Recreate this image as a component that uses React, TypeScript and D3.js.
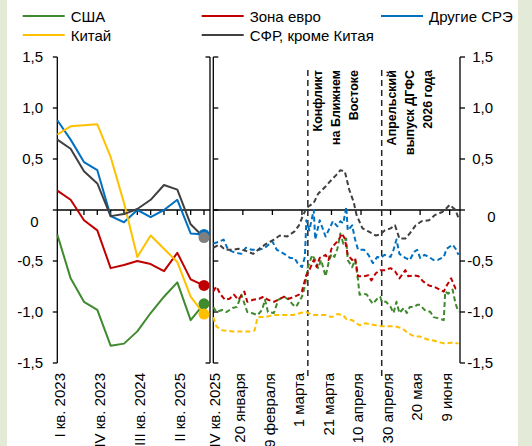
import React from "react";
import * as d3 from "d3";

// ---------- DATA ----------
const quarters = [
  "I кв. 2023", "II кв. 2023", "III кв. 2023", "IV кв. 2023",
  "I кв. 2024", "II кв. 2024", "III кв. 2024", "IV кв. 2024",
  "I кв. 2025", "II кв. 2025", "III кв. 2025", "IV кв. 2025",
];
const quarterLabelIdx = [0, 3, 6, 9, 11];

const usQ = [-0.24, -0.67, -0.9, -0.98, -1.33, -1.31, -1.19, -1.01, -0.85, -0.71, -1.08, -0.92];
const euroQ = [0.19, 0.1, -0.1, -0.2, -0.57, -0.54, -0.5, -0.53, -0.6, -0.42, -0.68, -0.74];
const otherEmQ = [0.88, 0.69, 0.47, 0.39, -0.06, -0.12, 0.0, -0.07, 0.0, 0.1, -0.23, -0.24];
const chinaQ = [0.74, 0.82, 0.83, 0.84, 0.52, 0.07, -0.46, -0.25, -0.38, -0.51, -0.85, -1.02];
const amExChinaQ = [0.69, 0.6, 0.38, 0.26, -0.06, -0.04, 0.01, 0.1, 0.245, 0.2, -0.14, -0.27];

// daily series: day of year 2026 (1 = 1 January) and values
const usDays = [0, 2, 6, 9, 13, 16, 19, 23, 26, 30, 33, 35, 37, 41, 44, 48, 51, 54, 56, 58, 60, 62, 64, 67, 69, 71, 73, 76, 78, 80, 82, 84, 86, 88, 90, 91, 94, 96, 98, 99, 102, 104, 106, 108, 111, 113, 114, 117, 120, 122, 124, 126, 129, 131, 133, 136, 138, 140, 143, 147, 149, 152, 156, 157, 159, 162, 164, 166];
const usDaily = [-0.95, -1.0, -0.98, -1.0, -0.96, -0.95, -0.83, -1.0, -1.01, -1.03, -0.98, -0.88, -1.0, -1.01, -0.88, -0.85, -0.88, -0.93, -0.95, -0.9, -0.85, -0.75, -0.56, -0.44, -0.49, -0.57, -0.49, -0.65, -0.52, -0.43, -0.46, -0.38, -0.23, -0.33, -0.28, -0.49, -0.56, -0.49, -0.69, -0.83, -0.82, -0.83, -0.88, -0.92, -0.87, -0.85, -0.9, -0.9, -0.95, -1.01, -0.9, -1.01, -0.96, -1.01, -0.95, -0.95, -0.93, -0.93, -0.98, -1.0, -1.05, -1.06, -1.08, -0.8, -0.82, -0.78, -0.92, -1.0];

const euroDays = [0, 2, 5, 8, 11, 14, 17, 21, 23, 27, 31, 34, 37, 41, 44, 48, 51, 55, 58, 60, 61, 63, 65, 68, 70, 72, 76, 78, 80, 82, 85, 87, 89, 91, 94, 96, 98, 102, 105, 107, 110, 113, 116, 120, 123, 126, 130, 132, 136, 139, 142, 146, 149, 152, 156, 158, 161, 164, 166];
const euroDaily = [-0.8, -0.75, -0.83, -0.88, -0.87, -0.83, -0.88, -0.8, -0.9, -0.88, -0.87, -0.85, -0.88, -0.9, -0.88, -0.85, -0.87, -0.85, -0.83, -0.8, -0.74, -0.64, -0.59, -0.49, -0.56, -0.47, -0.44, -0.49, -0.38, -0.34, -0.29, -0.23, -0.28, -0.44, -0.49, -0.47, -0.65, -0.65, -0.64, -0.69, -0.62, -0.59, -0.59, -0.57, -0.6, -0.67, -0.59, -0.65, -0.64, -0.65, -0.7, -0.74, -0.75, -0.77, -0.8, -0.74, -0.67, -0.77, -0.78];

const otherEmDays = [0, 4, 7, 10, 15, 19, 22, 26, 31, 35, 40, 43, 48, 52, 55, 57, 60, 62, 63, 65, 68, 69, 72, 76, 78, 81, 84, 86, 88, 90, 91, 94, 96, 98, 102, 105, 108, 111, 113, 116, 120, 122, 124, 126, 130, 133, 136, 138, 140, 143, 146, 149, 152, 156, 158, 162, 164, 166];
const otherEmDaily = [-0.33, -0.31, -0.29, -0.39, -0.42, -0.43, -0.37, -0.39, -0.39, -0.37, -0.31, -0.39, -0.43, -0.47, -0.47, -0.52, -0.56, -0.46, -0.1, -0.2, 0.0, -0.29, -0.1, -0.26, -0.2, -0.11, -0.16, -0.11, -0.13, 0.03, -0.2, -0.15, -0.29, -0.39, -0.39, -0.44, -0.52, -0.46, -0.47, -0.44, -0.46, -0.39, -0.29, -0.43, -0.47, -0.49, -0.41, -0.39, -0.47, -0.44, -0.46, -0.49, -0.49, -0.46, -0.38, -0.34, -0.38, -0.44];

const chinaDays = [0, 2, 6, 13, 19, 26, 28, 30, 35, 41, 48, 54, 59, 63, 67, 71, 76, 80, 84, 88, 90, 94, 96, 99, 103, 106, 110, 114, 119, 123, 128, 132, 136, 140, 145, 149, 154, 157, 162, 166];
const chinaDaily = [-1.05, -1.14, -1.18, -1.19, -1.19, -1.19, -1.18, -1.05, -1.05, -1.03, -1.03, -1.03, -1.01, -1.0, -1.03, -1.03, -1.03, -1.05, -1.02, -1.03, -1.07, -1.08, -1.1, -1.13, -1.11, -1.12, -1.13, -1.14, -1.14, -1.14, -1.16, -1.21, -1.24, -1.24, -1.27, -1.28, -1.3, -1.31, -1.3, -1.31];

const amExChinaDays = [0, 4, 8, 13, 17, 22, 27, 32, 36, 41, 45, 50, 55, 58, 60, 63, 68, 71, 76, 79, 83, 86, 89, 92, 95, 97, 101, 105, 110, 113, 116, 120, 123, 126, 130, 133, 137, 141, 146, 150, 155, 158, 160, 164, 166];
const amExChinaDaily = [-0.37, -0.34, -0.39, -0.39, -0.38, -0.4, -0.43, -0.37, -0.33, -0.29, -0.25, -0.26, -0.21, -0.15, -0.08, 0.02, 0.07, 0.16, 0.23, 0.28, 0.34, 0.39, 0.38, 0.2, 0.08, -0.05, -0.18, -0.21, -0.25, -0.24, -0.2, -0.18, -0.15, -0.28, -0.28, -0.23, -0.15, -0.11, -0.1, -0.05, -0.02, 0.02, 0.05, 0.0, -0.08];

const yTicks = [-1.5, -1, -0.5, 0, 0.5, 1, 1.5];
const dateTickDays = [20, 40, 60, 80, 100, 120, 140, 160];
const dateTickLabels = ["20 января", "9 февраля", "1 марта", "21 марта", "10 апреля", "30 апреля", "20 мая", "9 июня"];

const events = [
  { day: 64, lines: ["Конфликт", "на Ближнем", "Востоке"] },
  { day: 114, lines: ["Апрельский", "выпуск ДГФС", "2026 года"] },
];

const seriesMeta = [
  { name: "США", color: "#3f8a2e", q: usQ, days: usDays, daily: usDaily, dot: "#3f8a2e" },
  { name: "Зона евро", color: "#c00000", q: euroQ, days: euroDays, daily: euroDaily, dot: "#c00000" },
  { name: "Другие СРЭ", color: "#0070c0", q: otherEmQ, days: otherEmDays, daily: otherEmDaily, dot: "#0070c0" },
  { name: "Китай", color: "#ffc000", q: chinaQ, days: chinaDays, daily: chinaDaily, dot: "#ffc000" },
  { name: "СФР, кроме Китая", color: "#404040", q: amExChinaQ, days: amExChinaDays, daily: amExChinaDaily, dot: "#808080" },
];
const legendOrder = [0, 1, 2, 3, 4];

// ---------- LAYOUT ----------
const W = 532;
const H = 446;
const FONT = "'Liberation Sans', Arial, sans-serif";

const y = d3.scaleLinear().domain([-1.5, 1.5]).range([363, 57]);
const xQ = d3.scaleLinear().domain([0, 11]).range([57.3, 204]);
const leftEdge = 57.3;
const leftRight = 210;
const dayToDate = (d: number) => new Date(Date.UTC(2026, 0, d));
const xD = d3.scaleUtc().domain([dayToDate(0), dayToDate(167)]).range([213.3, 460]);
const rightLeft = 213.3;
const rightRight = 460;

const fmt = (v: number) => (v === 0 ? "0" : d3.format(".1f")(v).replace(".", ",").replace("−", "-"));

export default function App() {
  const qLine = (vals: number[]) =>
    d3.line<number>().x((_, i) => xQ(i)).y((d) => y(d))(vals) || "";
  const dLine = (days: number[], vals: number[]) =>
    d3.line<number>().x((_, i) => xD(dayToDate(days[i]))).y((d) => y(d))(vals) || "";

  const axisColor = "#000";
  const aw = 1.3;
  const y0 = y(0);

  return (
    <svg
      width={W}
      height={H}
      style={{ position: "fixed", left: 0, top: 0, display: "block" }}
      fontFamily={FONT}
    >
      <rect x={0} y={0} width={W} height={H} fill="#ffffff" />
      <rect x={0} y={0} width={7} height={H} fill="#e3ebd8" />
      <rect x={518} y={0} width={W - 518} height={H} fill="#e3ebd8" />

      {/* Legend */}
      {legendOrder.map((si, i) => {
        const s = seriesMeta[si];
        const col = [22.7, 201.7, 381][i < 3 ? i : i - 3];
        const row = i < 3 ? 16 : 35;
        return (
          <g key={s.name}>
            <line x1={col} x2={col + 42} y1={row} y2={row} stroke={s.color} strokeWidth={2.2} />
            <text x={col + 48} y={row + 5.5} fontSize={15} fill="#000">
              {s.name}
            </text>
          </g>
        );
      })}

      {/* Left panel axes */}
      <line x1={leftEdge} x2={leftEdge} y1={y(1.5)} y2={y(-1.5)} stroke={axisColor} strokeWidth={aw} />
      {yTicks.map((t) => (
        <line key={"lt" + t} x1={leftEdge - 4.5} x2={leftEdge} y1={y(t)} y2={y(t)} stroke={axisColor} strokeWidth={aw} />
      ))}
      {yTicks.map((t) => (
        <text
          key={"ll" + t}
          x={t === 0 ? 38.5 : 43}
          y={y(t) + (t === 0 ? 12 : 0)}
          dy="0.35em"
          textAnchor="end"
          fontSize={15}
          fill="#000"
        >
          {fmt(t)}
        </text>
      ))}
      <line x1={leftRight} x2={leftRight} y1={y(1.5)} y2={y(-1.5)} stroke={axisColor} strokeWidth={aw} />
      {[1.5, -1.5].map((t) => (
        <line key={"lr" + t} x1={leftRight - 4.5} x2={leftRight} y1={y(t)} y2={y(t)} stroke={axisColor} strokeWidth={aw} />
      ))}
      <line x1={leftEdge} x2={leftRight} y1={y0} y2={y0} stroke={axisColor} strokeWidth={aw} />
      {quarters.map((q, i) =>
        i === 0 ? null : (
          <line key={"qt" + i} x1={xQ(i)} x2={xQ(i)} y1={y0} y2={y0 + 5} stroke={axisColor} strokeWidth={aw} />
        )
      )}
      {quarterLabelIdx.map((i, j) => {
        const x = j === quarterLabelIdx.length - 1 ? rightLeft + 1 : xQ(i) + 2;
        return (
          <text
            key={"ql" + i}
            transform={`translate(${x},373) rotate(-90)`}
            textAnchor="end"
            dy="0.35em"
            fontSize={15}
            fill="#000"
          >
            {quarters[i]}
          </text>
        );
      })}

      {/* Right panel axes */}
      <line x1={rightLeft} x2={rightLeft} y1={y(1.5)} y2={y(-1.5)} stroke={axisColor} strokeWidth={aw} />
      {yTicks.map((t) => (
        <line key={"rlt" + t} x1={rightLeft} x2={rightLeft + 5} y1={y(t)} y2={y(t)} stroke={axisColor} strokeWidth={aw} />
      ))}
      <line x1={rightRight} x2={rightRight} y1={y(1.5)} y2={y(-1.5)} stroke={axisColor} strokeWidth={aw} />
      {yTicks.map((t) => (
        <line key={"rrt" + t} x1={rightRight} x2={rightRight + 5} y1={y(t)} y2={y(t)} stroke={axisColor} strokeWidth={aw} />
      ))}
      {yTicks.map((t) => (
        <text
          key={"rl" + t}
          x={t === 0 ? 495.5 : 493}
          y={y(t) + (t === 0 ? 7 : 0)}
          dy="0.35em"
          textAnchor="end"
          fontSize={15}
          fill="#000"
        >
          {fmt(t)}
        </text>
      ))}
      <line x1={rightLeft} x2={rightRight} y1={y0} y2={y0} stroke={axisColor} strokeWidth={aw} />
      {dateTickDays.map((d) => (
        <line key={"dt" + d} x1={xD(dayToDate(d))} x2={xD(dayToDate(d))} y1={y0} y2={y0 + 5} stroke={axisColor} strokeWidth={aw} />
      ))}
      {dateTickDays.map((d, i) => (
        <text
          key={"dl" + d}
          transform={`translate(${xD(dayToDate(d)) - 3},373) rotate(-90)`}
          textAnchor="end"
          dy="0.35em"
          fontSize={15}
          fill="#000"
        >
          {dateTickLabels[i]}
        </text>
      ))}

      {/* Event lines */}
      {events.map((e) => {
        const x = xD(dayToDate(e.day));
        return (
          <g key={"ev" + e.day}>
            <line x1={x} x2={x} y1={70} y2={378} stroke="#262626" strokeWidth={1.5} strokeDasharray="6,4" />
            {e.lines.map((ln, k) => (
              <text
                key={k}
                transform={`translate(${x + 9.5 + k * 18},70) rotate(-90)`}
                textAnchor="end"
                dy="0.35em"
                fontSize={12.5}
                fontWeight="bold"
                fill="#000"
              >
                {ln}
              </text>
            ))}
          </g>
        );
      })}

      {/* Left panel lines */}
      {seriesMeta.map((s) => (
        <path key={"q" + s.name} d={qLine(s.q)} fill="none" stroke={s.color} strokeWidth={2} strokeLinejoin="round" />
      ))}
      {/* Right panel dashed lines */}
      {seriesMeta.map((s) => (
        <path
          key={"d" + s.name}
          d={dLine(s.days, s.daily)}
          fill="none"
          stroke={s.color}
          strokeWidth={2}
          strokeDasharray="5,3"
          strokeLinejoin="round"
        />
      ))}
      {/* End dots */}
      {[2, 4, 1, 0, 3].map((si) => {
        const s = seriesMeta[si];
        return <circle key={"c" + s.name} cx={xQ(11)} cy={y(s.q[11])} r={5.5} fill={s.dot} />;
      })}
    </svg>
  );
}
